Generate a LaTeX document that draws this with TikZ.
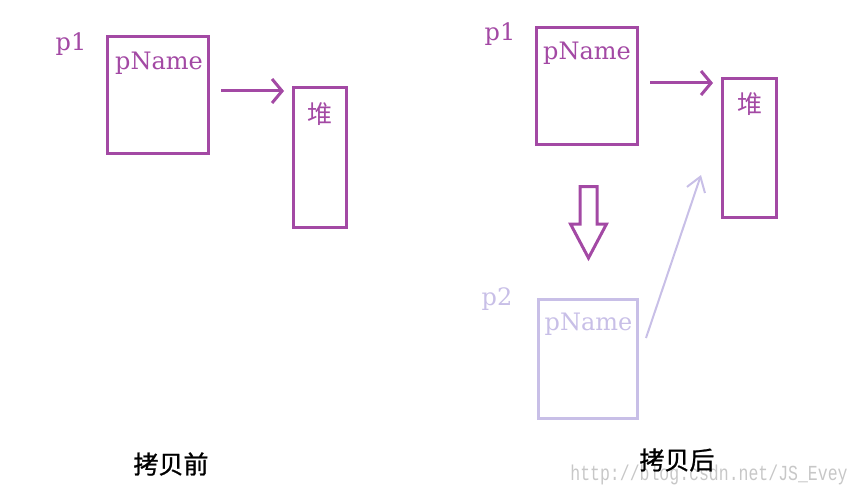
\documentclass[tikz,border=0pt]{standalone}
\usepackage{fontspec}
\usepackage{tikz}
\usetikzlibrary{
  positioning,
  arrows.meta,
  calc
}
\newfontfamily\cjk{Noto Sans CJK SC}
\newfontfamily\cjkcap[FakeBold=1]{Noto Sans CJK SC}
\newfontfamily\serifw{DejaVu Serif}
\newfontfamily\wmark{Liberation Mono}
\definecolor{memdark}{HTML}{A349A4}
\definecolor{memlight}{HTML}{C8BFE7}

\begin{document}
\begin{tikzpicture}[
  x=1pt, y=-1pt,
  cell/.style={draw, line width=3pt, minimum width=101pt, minimum height=117pt, inner sep=0pt},
  heap/.style={draw, line width=3pt, minimum width=53pt, minimum height=140pt, inner sep=0pt},
  field/.style={font=\serifw\fontsize{24}{24}\selectfont, anchor=base, inner sep=0pt},
  tag/.style={font=\serifw\fontsize{24}{24}\selectfont, anchor=base, inner sep=0pt},
  heaptxt/.style={font=\cjk\fontsize{25}{25}\selectfont, inner sep=0pt},
  caption/.style={font=\cjkcap\fontsize{25}{25}\selectfont, inner sep=0pt},
  ptr/.style={line width=3pt, -{Straight Barb[length=10pt, width=24pt]}},
]
  \useasboundingbox (0,0) rectangle (860,495);

  % before copying
  \node[cell, memdark] (b1) at (158,95) {};
  \node[field, text=memdark] (n1) at ($(b1.north)+(1,35)$) {pName};
  \node[tag, text=memdark] (l1) at (71,51) {p1};
  \node[heap, memdark] (h1) at (320,157.5) {};
  \node[heaptxt, text=memdark] (t1) at ($(h1.north)+(0,28)$) {堆};
  \draw[ptr, memdark, shorten <=11pt, shorten >=8pt] ([yshift=4pt]b1.east) -- ([yshift=4pt]b1.east -| h1.west);

  % after copying
  \node[cell, memdark] (b2) at (587,86) {};
  \node[field, text=memdark] (n2) at ($(b2.north)+(0,34)$) {pName};
  \node[tag, text=memdark] (l2) at (500,41) {p1};
  \node[heap, memdark, minimum width=54pt, minimum height=139pt] (h2) at (749.5,148) {};
  \node[heaptxt, text=memdark] (t2) at ($(h2.north)+(0,27)$) {堆};
  \draw[ptr, memdark, shorten <=11pt, shorten >=8pt] ([yshift=3pt]b2.east) -- ([yshift=3pt]b2.east -| h2.west);

  \draw[memdark, line width=3pt] ($(b2.south)+(1.5,40.5)$) coordinate (d0)
    ++(-8.5,0) -- ++(17,0) -- ++(0,37.5) -- ++(9.5,0) -- ++(-18,34)
    -- ++(-18,-34) -- ++(9.5,0) -- cycle;

  \node[cell, memlight, minimum width=99pt, minimum height=119pt] (b3) at (588,359) {};
  \node[field, text=memlight] (n3) at ($(b3.north)+(0.5,32)$) {pName};
  \node[tag, text=memlight] (l3) at (497,305) {p2};
  \coordinate (s3) at ($(b3.east)+(7,-21)$);
  \coordinate (e3) at ($(h2.south west)+(-20,-44)$);
  \draw[memlight, line width=2pt, -{Straight Barb[length=14pt, width=19pt]}] (s3) -- (e3);

  % captions
  \node[font=\wmark\fontsize{16.5}{16.5}\selectfont, text=black!22, inner sep=0pt] (wm) at (709,475) {\scalebox{1}[1.3]{http://blog.csdn.net/JS\_Evey}};
  \node[caption] (c1) at (171,464) {拷贝前};
  \node[caption] (c2) at (677,460) {拷贝后};
\end{tikzpicture}
\end{document}
